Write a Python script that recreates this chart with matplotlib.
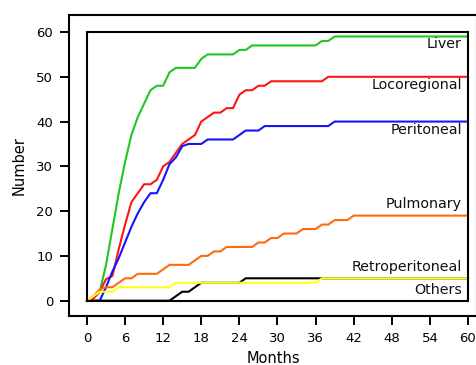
import numpy as np
import matplotlib
matplotlib.use('Agg')
import matplotlib.pyplot as plt

months = np.arange(61)

liver = [0, 0.5, 2, 8, 16, 24, 31, 37, 41, 44, 47, 48, 48, 51, 52, 52, 52, 52, 54, 55,
         55, 55, 55, 55, 56, 56] + [57] * 11 + [58, 58] + [59] * 22
locoregional = [0, 0.5, 2, 4.8, 5.5, 11.5, 17, 22, 24, 26, 26, 27, 30, 31, 33, 35, 36, 37,
                40, 41, 42, 42, 43, 43, 46, 47, 47, 48, 48] + [49] * 9 + [50] * 23
peritoneal = [0, 0, 0, 3, 6.5, 9.5, 13, 16.5, 19.5, 22, 24, 24, 27, 30.5, 32, 34.5, 35, 35,
              35, 36, 36, 36, 36, 36, 37, 38, 38, 38] + [39] * 11 + [40] * 22
pulmonary = [0, 1, 2.5, 3, 3, 4, 5, 5, 6, 6, 6, 6, 7, 8, 8, 8, 8, 9, 10, 10, 11, 11, 12, 12,
             12, 12, 12, 13, 13, 14, 14, 15, 15, 15, 16, 16, 16, 17, 17, 18, 18, 18] + [19] * 19
retroperitoneal = [0] * 14 + [1, 2, 2, 3] + [4] * 7 + [5] * 36
others = [0, 1, 2, 2, 2] + [3] * 9 + [4] * 23 + [5] * 24

series = [
    ('Liver', liver, '#1fc71f', 57.4),
    ('Locoregional', locoregional, '#ff1414', 48.1),
    ('Peritoneal', peritoneal, '#1414ff', 38.2),
    ('Pulmonary', pulmonary, '#ff6a0a', 21.7),
    ('Retroperitoneal', retroperitoneal, 'black', 7.6),
    ('Others', others, '#ffff1a', 2.3),
]

fig = plt.figure(figsize=(4.77, 3.65), dpi=100)
ax = fig.add_axes([69 / 477, 49 / 365, 408 / 477, 301 / 365])

# black drawn first so the yellow line sits on top of it
order = [4, 0, 1, 2, 3, 5]
for i in order:
    name, vals, col, ty = series[i]
    ax.plot(months, vals, color=col, lw=1.5, zorder=2)
for name, vals, col, ty in series:
    ax.text(59, ty, name, ha='right', va='center', fontsize=10.3, color='#111111')

# inner frame
ax.plot([0, 60, 60, 0, 0], [0, 0, 60, 60, 0], color='black', lw=1.5, zorder=3,
        solid_joinstyle='miter')

ax.set_xlim(-2.83, 61.42)
ax.set_ylim(-3.42, 63.8)
ax.set_xticks(np.arange(0, 61, 6))
ax.set_yticks(np.arange(0, 61, 10))
ax.tick_params(direction='out', length=6.5, width=1.4, pad=5, labelsize=9.5,
               top=False, right=False)
for s in ['left', 'bottom', 'top', 'right']:
    ax.spines[s].set_linewidth(1.5)
ax.set_xlabel('Months', fontsize=10.5, labelpad=4)
ax.set_ylabel('Number', fontsize=10.5, labelpad=7)

plt.savefig('out.png', dpi=100)
